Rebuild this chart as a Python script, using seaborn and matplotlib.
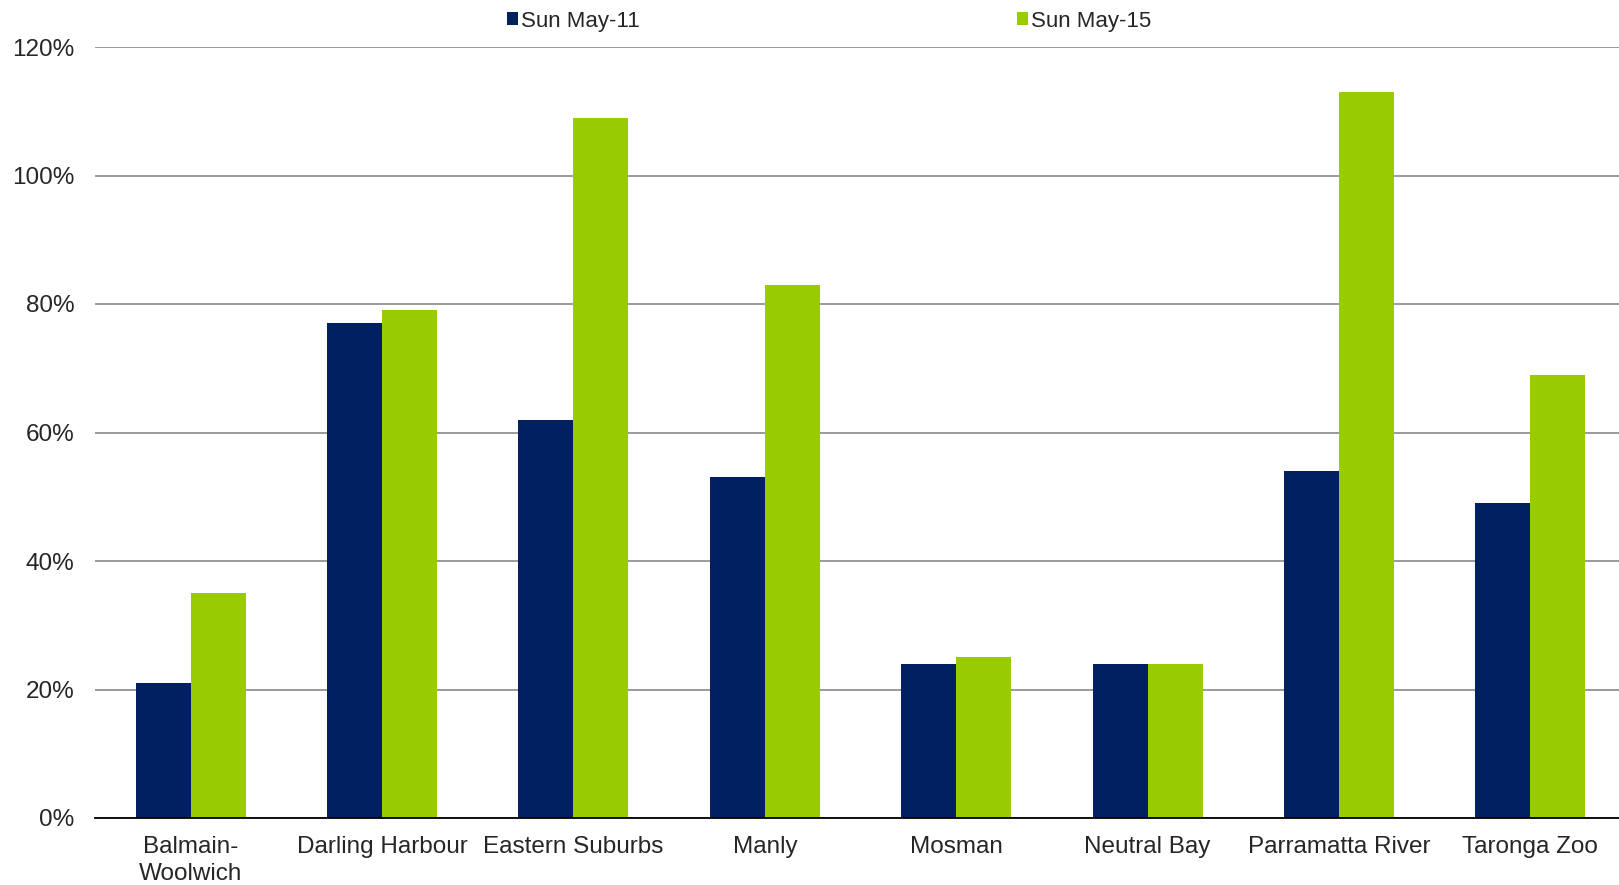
import pandas as pd
import matplotlib.pyplot as plt
import seaborn as sns
from matplotlib.patches import Patch
from matplotlib.ticker import PercentFormatter

# Data
areas = [
    "Balmain-\nWoolwich",
    "Darling Harbour",
    "Eastern Suburbs",
    "Manly",
    "Mosman",
    "Neutral Bay",
    "Parramatta River",
    "Taronga Zoo",
]
series_names = ["Sun May-11", "Sun May-15"]
may_11 = [21, 77, 62, 53, 24, 24, 54, 49]
may_15 = [35, 79, 109, 83, 25, 24, 113, 69]
colors = ["#002060", "#99CC00"]

df = pd.DataFrame(
    {
        "area": areas * 2,
        "series": [series_names[0]] * len(areas) + [series_names[1]] * len(areas),
        "value": may_11 + may_15,
    }
)

sns.set_style("white")
plt.rcParams["font.family"] = ["Liberation Sans", "DejaVu Sans"]
fs = 17.5

fig = plt.figure(figsize=(16.19, 8.85), dpi=100)
# axes runs a little past the right edge, as in the reference
ax = fig.add_axes([95 / 1619, 1 - 818 / 885, 1531 / 1619, (818 - 47) / 885])

sns.barplot(
    data=df,
    x="area",
    y="value",
    hue="series",
    palette=colors,
    saturation=1,
    width=0.575,
    gap=0,
    errorbar=None,
    linewidth=0,
    ax=ax,
    legend=False,
)

ax.set_ylim(0, 120)
ax.set_xlim(-0.5, len(areas) - 0.5)
ax.set_yticks(range(0, 121, 20))
ax.yaxis.set_major_formatter(PercentFormatter(decimals=0))
ax.yaxis.grid(True, color="#7f7f7f", linewidth=1.1)
ax.set_axisbelow(True)
for side in ["top", "right", "left"]:
    ax.spines[side].set_visible(False)
ax.spines["bottom"].set_color("black")
ax.spines["bottom"].set_linewidth(1.3)
ax.tick_params(axis="y", length=0, pad=15, labelsize=fs)
ax.tick_params(axis="x", length=0, pad=13, labelsize=fs)
for label in ax.get_xticklabels():
    label.set_linespacing(1.3)
ax.set_xlabel("")
ax.set_ylabel("")

handles = [Patch(facecolor=c, edgecolor="none") for c in colors]
fig.legend(
    handles,
    series_names,
    loc="center left",
    bbox_to_anchor=(507 / 1619, 1 - 21 / 885),
    ncol=2,
    frameon=False,
    fontsize=16,
    handlelength=0.5,
    handleheight=0.5,
    handletextpad=0.12,
    columnspacing=17,
    borderpad=0,
    borderaxespad=0,
)

fig.savefig("out.png", dpi=100)
